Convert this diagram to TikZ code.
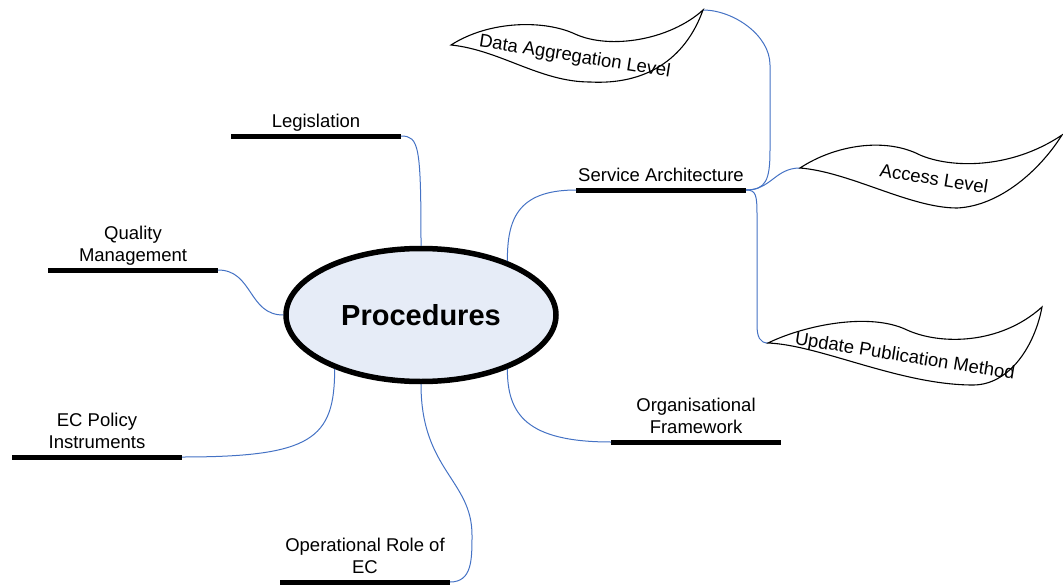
\documentclass[tikz,border=0pt]{standalone}
\usepackage{fontspec}
\setmainfont{Liberation Sans}
\usetikzlibrary{shapes.geometric,positioning}

\definecolor{linkblue}{RGB}{68,114,196}
\definecolor{hubfill}{RGB}{230,236,247}

\tikzset{
  branch/.style={fill=black,minimum width=170pt,minimum height=5pt,inner sep=0pt,outer sep=0pt},
  branchtext/.style={font=\fontsize{18.5}{22.5}\selectfont,align=center,inner sep=0pt,text depth=0pt},
  link/.style={linkblue,line width=1pt},
  flag/.style={line width=1.1pt,fill=white},
  flagtext/.style={font=\fontsize{18.5}{22.5}\selectfont,inner sep=0pt,anchor=base,rotate=-9}
}

\begin{document}
\begin{tikzpicture}[x=1pt,y=-1pt]
	\useasboundingbox (0,0) rectangle (1063,586);
	% hub
	\node[ellipse,draw,line width=5.5pt,fill=hubfill,minimum width=270pt,minimum height=133pt,inner sep=0pt,
		font=\fontsize{29}{34}\selectfont\bfseries] (proc) at (421,315) {Procedures};
	% branches
	\node[branch] (leg) at (316,136) {};
	\node[branch] (qual) at (133,270) {};
	\node[branch] (ecpol) at (97,457) {};
	\node[branch] (oper) at (365,582) {};
	\node[branch] (org) at (696,442) {};
	\node[branch] (serv) at (661,190) {};
	\node[branchtext,above=5.5pt of leg] (leg-t) {Legislation};
	\node[branchtext,above=5.5pt of qual] (qual-t) {Quality\\Management};
	\node[branchtext,above=5.5pt of ecpol] (ecpol-t) {EC Policy\\Instruments};
	\node[branchtext,above=5.5pt of oper] (oper-t) {Operational Role of\\EC};
	\node[branchtext,above=5.5pt of org] (org-t) {Organisational\\Framework};
	\node[branchtext,above=5.5pt of serv] (serv-t) {Service Architecture};
	% flag tips
	\coordinate (dal-l) at (451,45);
	\coordinate (dal-r) at (703,10);
	\coordinate (acc-l) at (800,168);
	\coordinate (acc-r) at (1062,135);
	\coordinate (upm-l) at (768,343);
	\coordinate (upm-r) at (1042,307);
	% connectors
	\draw[link] (leg.east) .. controls +(18,0) and +(0,-100) .. (proc.north);
	\draw[link] (qual.east) .. controls +(35,0) and +(-35,0) .. (proc.west);
	\draw[link] (ecpol.east) .. controls +(130,0) and +(0,70) .. (proc.212);
	\draw[link] (oper.east) .. controls +(22,0) and +(0,25) .. (472,535) .. controls (472,480) and (421,470) .. (proc.south);
	\draw[link] (org.west) .. controls +(-85,0) and +(0,45) .. (proc.328);
	\draw[link] (serv.west) .. controls +(-60,0) and +(0,-40) .. (proc.32);
	\draw[link] (serv.east) .. controls +(20,0) and +(0,30) .. (770,150) -- (770,65) .. controls +(0,-30) and +(30,0) .. (dal-r);
	\draw[link] (serv.east) .. controls +(25,0) and +(-25,0) .. (acc-l);
	\draw[link] (serv.east) .. controls +(10,0) and +(0,-20) .. (757,215) -- (757,325) .. controls +(0,12) and +(-8,0) .. (upm-l);
	% flags
	\draw[flag] (dal-l) .. controls (490,20) and (545,20) .. (575,34) .. controls (610,50) and (670,40) .. (dal-r)
		.. controls (685,60) and (645,85) .. (590,82) .. controls (540,82) and (500,50) .. (dal-l) -- cycle;
	\draw[flag] (acc-l) .. controls (835,145) and (885,137) .. (920,155) .. controls (950,168) and (1010,170) .. (acc-r)
		.. controls (1040,170) and (1000,206) .. (957,208) .. controls (910,208) and (850,172) .. (acc-l) -- cycle;
	\draw[flag] (upm-l) .. controls (805,325) and (870,312) .. (907,330) .. controls (940,345) and (1000,345) .. (upm-r)
		.. controls (1035,345) and (1010,385) .. (973,385) .. controls (900,385) and (820,345) .. (upm-l) -- cycle;
	\node[flagtext] (dal-t) at (574,62) {Data Aggregation Level};
	\node[flagtext] (acc-t) at (933,185) {Access Level};
	\node[flagtext] (upm-t) at (904,362) {Update Publication Method};
\end{tikzpicture}
\end{document}
